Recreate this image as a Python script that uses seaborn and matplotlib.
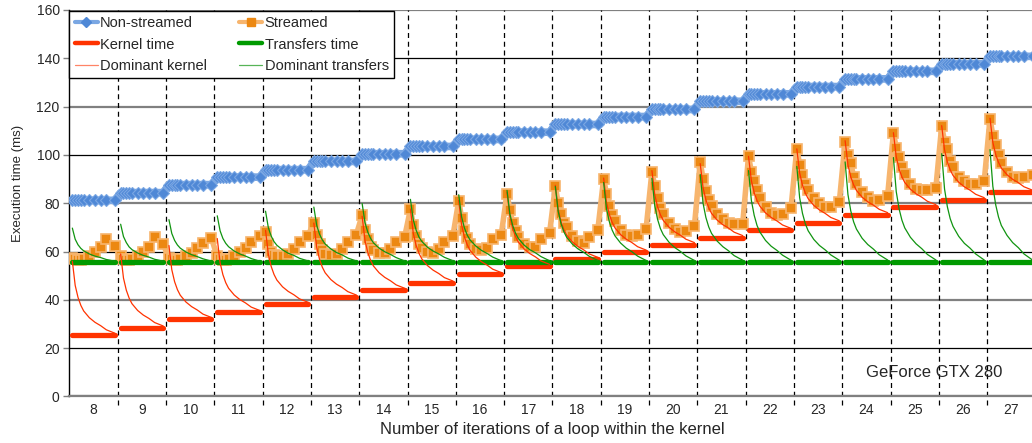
import numpy as np
import pandas as pd
import matplotlib
matplotlib.use('Agg')
import matplotlib.pyplot as plt
import matplotlib.transforms as mtransforms
from matplotlib.lines import Line2D
import seaborn as sns

sns.set_style("ticks")
plt.rcParams['font.family'] = ['Liberation Sans', 'DejaVu Sans']

# == data
iterations = list(range(8, 28))
streams = [2, 3, 4, 5, 6, 8, 10, 12, 14, 17]

non_streamed = [81.2, 84.4, 87.7, 90.8, 93.9, 97.3, 100.5, 103.5, 106.4, 109.4,
                112.6, 115.9, 118.8, 122.2, 125.3, 128.3, 131.5, 134.6, 137.7, 140.8]
kernel_time = [25.4, 28.4, 31.9, 34.8, 38.2, 41.2, 44.0, 47.0, 50.5, 53.9,
               56.8, 59.8, 62.9, 65.8, 68.8, 71.9, 75.3, 78.6, 81.5, 84.6]
transfers_time = [55.7, 55.7, 55.7, 55.7, 55.7, 55.7, 55.7, 55.7, 55.7, 55.7,
                  55.7, 55.7, 55.7, 55.7, 55.7, 55.7, 55.7, 55.7, 55.7, 55.7]

streamed = [
    [57.5, 57, 56.5, 56.5, 57, 58, 60, 62, 65, 62.5],
    [58, 57, 56.5, 56.5, 57, 58, 60, 62, 66, 63],
    [57.5, 57, 56.5, 56.5, 57, 58, 59.5, 61.5, 63.5, 65.5],
    [58, 57, 56.5, 56.5, 57, 58, 60, 61.5, 64, 66.5],
    [68, 63, 60, 58.5, 58, 58, 59, 61, 64, 66.5],
    [72, 67, 63, 60.5, 59, 58.5, 59, 61, 64, 67],
    [75, 69, 65, 62, 60.5, 59.5, 59.5, 61, 64, 66],
    [77.5, 71, 66.5, 63, 61.5, 60, 59.5, 61, 64, 66.5],
    [81, 74, 69, 65.5, 63, 61, 60.5, 61.5, 65, 67],
    [84, 77, 72, 68.5, 66, 63, 62, 62, 65, 67.5],
    [87, 80, 75.5, 72, 70, 66.5, 64.5, 63.5, 66, 69],
    [90, 84, 79, 75, 72.5, 69, 67, 66.5, 67, 69.5],
    [93, 87, 82, 78, 75.5, 72, 69.5, 68, 68.5, 70.5],
    [97, 90, 85, 81.5, 79, 75.5, 73.5, 72, 71.5, 71.5],
    [99.5, 93, 89, 85.5, 82, 78.5, 76, 75, 75.5, 78],
    [102.5, 96, 91.5, 88, 85.5, 82, 80, 78.5, 78.5, 80.5],
    [105.5, 100, 96.5, 91, 88, 84.5, 82.5, 81, 81.5, 83],
    [109, 103, 99, 95, 92, 88, 86, 85.5, 85.5, 86.5],
    [112, 105.5, 102.5, 97.5, 95, 91, 89, 88, 88, 89],
    [115, 108, 104, 100, 96.5, 93, 91, 90.5, 91, 91.5],
]

dominant_kernel = [
    [56.0, 46.0, 41.0, 37.7, 35.4, 32.6, 30.7, 29.3, 27.6, 26.2],
    [59.0, 49.0, 44.0, 40.7, 38.4, 35.6, 33.7, 32.3, 30.6, 29.2],
    [62.5, 52.5, 47.5, 44.2, 41.9, 39.1, 37.2, 35.8, 34.1, 32.7],
    [65.4, 55.4, 50.4, 47.1, 44.8, 42.0, 40.1, 38.7, 37.0, 35.6],
    [68.8, 58.8, 53.8, 50.5, 48.2, 45.4, 43.5, 42.1, 40.4, 39.0],
    [71.8, 61.8, 56.8, 53.5, 51.2, 48.4, 46.5, 45.1, 43.4, 42.0],
    [74.6, 64.6, 59.6, 56.3, 54.0, 51.2, 49.3, 47.9, 46.2, 44.8],
    [77.6, 67.6, 62.6, 59.3, 57.0, 54.2, 52.3, 50.9, 49.2, 47.8],
    [81.1, 71.1, 66.1, 62.8, 60.5, 57.7, 55.8, 54.4, 52.7, 51.3],
    [84.5, 74.5, 69.5, 66.2, 63.9, 61.1, 59.2, 57.8, 56.1, 54.7],
    [87.4, 77.4, 72.4, 69.1, 66.8, 64.0, 62.1, 60.7, 59.0, 57.6],
    [90.4, 80.4, 75.4, 72.1, 69.8, 67.0, 65.1, 63.7, 62.0, 60.6],
    [93.5, 83.5, 78.5, 75.2, 72.9, 70.1, 68.2, 66.8, 65.1, 63.7],
    [96.4, 86.4, 81.4, 78.1, 75.8, 73.0, 71.1, 69.7, 68.0, 66.6],
    [99.4, 89.4, 84.4, 81.1, 78.8, 76.0, 74.1, 72.7, 71.0, 69.6],
    [102.5, 92.5, 87.5, 84.2, 81.9, 79.1, 77.2, 75.8, 74.1, 72.7],
    [105.9, 95.9, 90.9, 87.6, 85.3, 82.5, 80.6, 79.2, 77.5, 76.1],
    [109.2, 99.2, 94.2, 90.9, 88.6, 85.8, 83.9, 82.5, 80.8, 79.4],
    [112.1, 102.1, 97.1, 93.8, 91.5, 88.7, 86.8, 85.4, 83.7, 82.3],
    [115.2, 105.2, 100.2, 96.9, 94.6, 91.8, 89.9, 88.5, 86.8, 85.4],
]

dominant_transfers = [
    [69.7, 65.1, 62.8, 61.3, 60.3, 59.0, 58.1, 57.5, 56.7, 56.0],
    [71.3, 66.2, 63.7, 61.9, 60.8, 59.4, 58.4, 57.7, 56.8, 56.0],
    [73.2, 67.5, 64.6, 62.7, 61.4, 59.8, 58.7, 57.9, 57.0, 56.0],
    [74.8, 68.6, 65.4, 63.4, 62.0, 60.2, 59.0, 58.1, 57.1, 56.0],
    [76.7, 69.8, 66.4, 64.1, 62.6, 60.7, 59.3, 58.4, 57.2, 56.1],
    [78.4, 70.9, 67.2, 64.8, 63.1, 61.1, 59.6, 58.6, 57.3, 56.1],
    [79.9, 72.0, 68.0, 65.4, 63.6, 61.4, 59.9, 58.8, 57.5, 56.1],
    [81.6, 73.1, 68.9, 66.0, 64.2, 61.8, 60.2, 59.0, 57.6, 56.2],
    [83.5, 74.4, 69.8, 66.8, 64.8, 62.3, 60.5, 59.2, 57.7, 56.2],
    [85.3, 75.6, 70.8, 67.6, 65.4, 62.7, 60.8, 59.5, 57.9, 56.2],
    [86.9, 76.7, 71.6, 68.2, 65.9, 63.1, 61.1, 59.7, 58.0, 56.3],
    [88.6, 77.8, 72.4, 68.9, 66.5, 63.5, 61.4, 59.9, 58.1, 56.3],
    [90.3, 79.0, 73.3, 69.5, 67.0, 63.9, 61.7, 60.1, 58.2, 56.3],
    [91.9, 80.0, 74.1, 70.2, 67.5, 64.3, 62.0, 60.3, 58.3, 56.4],
    [93.5, 81.2, 75.0, 70.8, 68.1, 64.6, 62.2, 60.5, 58.5, 56.4],
    [95.2, 82.3, 75.8, 71.5, 68.6, 65.0, 62.5, 60.7, 58.6, 56.4],
    [97.1, 83.6, 76.8, 72.3, 69.3, 65.5, 62.9, 61.0, 58.7, 56.5],
    [98.9, 84.8, 77.7, 73.0, 69.8, 65.9, 63.2, 61.2, 58.8, 56.5],
    [100.5, 85.9, 78.5, 73.6, 70.4, 66.3, 63.4, 61.4, 59.0, 56.5],
    [102.2, 87.0, 79.4, 74.3, 70.8, 66.7, 63.7, 61.6, 59.0, 56.5],
]

# long table: one row per (iterations, streams)
rows = []
s0, s1 = streams[0], streams[-1]
for gi, it in enumerate(iterations):
    for si, n in enumerate(streams):
        rows.append(dict(group=gi, iters=it, streams=n,
                         x=gi - 0.44 + 0.88 * (n - s0) / (s1 - s0),
                         non_streamed=non_streamed[gi],
                         streamed=streamed[gi][si],
                         kernel=kernel_time[gi],
                         transfers=transfers_time[gi],
                         dom_kernel=dominant_kernel[gi][si],
                         dom_transfers=dominant_transfers[gi][si]))
df = pd.DataFrame(rows)

c_blue_line, c_blue = '#7AA7E3', '#4F88D6'
c_orange_line, c_orange = '#F7B56E', '#EC8812'
c_red, c_green = '#FF3300', '#009A00'

fig = plt.figure(figsize=(10.32, 4.43), dpi=100)
ax = fig.add_axes([0.0673, 0.105, 0.936, 0.8725])

# grid: gray / black alternating, dashed group separators
for v in range(0, 161, 40):
    ax.axhline(v, color='#808080', lw=1.6, zorder=0.5)
for v in range(20, 161, 40):
    ax.axhline(v, color='k', lw=0.9, zorder=0.5)
trans = mtransforms.blended_transform_factory(ax.transData, ax.transAxes)
ax.vlines(np.arange(0.5, 20, 1), -0.022, 1, transform=trans, colors='k', lw=0.9,
          linestyles=(0, (4, 3)), clip_on=False, zorder=1)

sns.lineplot(data=df, x='x', y='non_streamed', estimator=None, sort=True, ax=ax,
             color=c_blue_line, lw=5.5, marker='D', markersize=6.5,
             markerfacecolor=c_blue, markeredgecolor=c_blue_line, markeredgewidth=0.8,
             legend=False, zorder=3)
sns.lineplot(data=df, x='x', y='streamed', estimator=None, sort=True, ax=ax,
             color=c_orange_line, lw=4, marker='s', markersize=7,
             markerfacecolor=c_orange, markeredgecolor=c_orange_line, markeredgewidth=1.2,
             legend=False, zorder=3)
sns.lineplot(data=df, x='x', y='kernel', units='group', estimator=None, ax=ax,
             color=c_red, lw=3.8, legend=False, zorder=4)
sns.lineplot(data=df, x='x', y='transfers', units='group', estimator=None, ax=ax,
             color=c_green, lw=3.8, legend=False, zorder=4)
sns.lineplot(data=df, x='x', y='dom_kernel', units='group', estimator=None, ax=ax,
             color=c_red, lw=0.9, legend=False, zorder=5)
sns.lineplot(data=df, x='x', y='dom_transfers', units='group', estimator=None, ax=ax,
             color='#109410', lw=0.9, legend=False, zorder=5)

ax.set_xlim(-0.5, 19.5)
ax.set_ylim(0, 160)
ax.set_xticks(range(len(iterations)))
ax.set_xticklabels(iterations)
ax.set_yticks(range(0, 161, 20))
ax.tick_params(axis='x', length=0, pad=5, labelsize=10)
ax.tick_params(axis='y', length=4, width=1, color='#808080', labelsize=10, pad=3)
for s in ['top', 'right']:
    ax.spines[s].set_visible(False)
ax.spines['left'].set_color('k')
ax.spines['left'].set_linewidth(1)
ax.spines['bottom'].set_color('#808080')
ax.spines['bottom'].set_linewidth(1.6)

ax.set_xlabel('Number of iterations of a loop within the kernel', fontsize=12, labelpad=3)
ax.set_ylabel('')
fig.text(0.0175, 0.585, 'Execution time (ms)', rotation=90, ha='center', va='center', fontsize=9.5)
ax.text(0.895, 0.061, 'GeForce GTX 280', transform=ax.transAxes, ha='center', va='center', fontsize=12)

handles = [
    Line2D([], [], color=c_blue_line, lw=3, marker='D', markersize=5, mfc=c_blue, mec=c_blue),
    Line2D([], [], color=c_red, lw=3.2),
    Line2D([], [], color=c_red, lw=0.9, alpha=0.6),
    Line2D([], [], color=c_orange_line, lw=3, marker='s', markersize=5.5, mfc=c_orange, mec=c_orange),
    Line2D([], [], color=c_green, lw=3.2),
    Line2D([], [], color='#109410', lw=0.9, alpha=0.7),
]
labels = ['Non-streamed', 'Kernel time', 'Dominant kernel',
          'Streamed', 'Transfers time', 'Dominant transfers']
leg = ax.legend(handles, labels, ncol=2, loc='upper left', bbox_to_anchor=(0.0, 0.997),
                borderaxespad=0, frameon=True, fancybox=False, edgecolor='k', framealpha=1,
                fontsize=10.5, handlelength=1.6, handletextpad=0.15, columnspacing=2.2,
                labelspacing=0.5, borderpad=0.35)
leg.get_frame().set_linewidth(1)
leg.set_zorder(10)

plt.savefig('out.png', dpi=100)
plt.close()
